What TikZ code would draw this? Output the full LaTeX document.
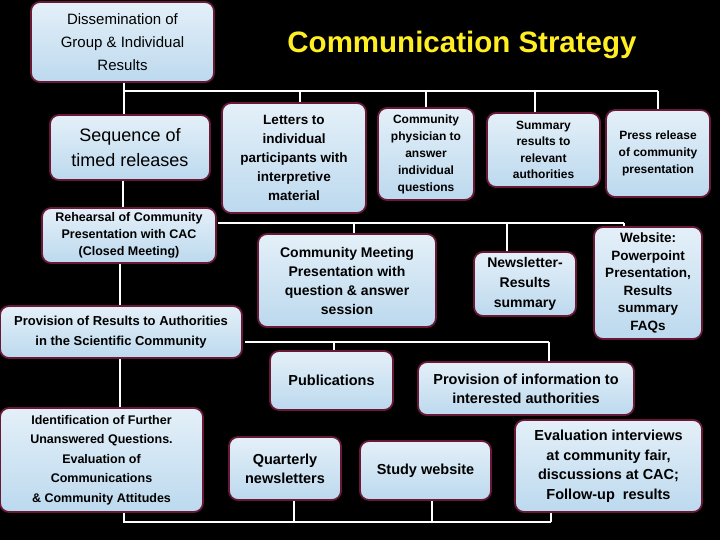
\documentclass[tikz,border=0pt]{standalone}
\usepackage{fontspec}
\setmainfont{Liberation Sans}
\begin{document}
\begin{tikzpicture}[x=1pt,y=-1pt,
  box/.style={draw=boxline,line width=1.8pt,rounded corners=9pt,top color=white!60!boxfill,bottom color=boxfill,
    align=center,inner sep=2pt,font=\bfseries\fontsize{13}{16.5}\selectfont},
  wire/.style={draw=white,line width=1.3pt}]
\definecolor{boxline}{HTML}{6A1838}
\definecolor{boxfill}{HTML}{BCD9EE}
\definecolor{titlec}{HTML}{FFEE22}
\fill[black] (0,0) rectangle (720,540);
\useasboundingbox (0,0) rectangle (720,540);
\newcommand\bx[7]{\node[box,minimum width=#3-#1,minimum height=#4-#2,#6] (#5) at ({(#1+#3)/2},{(#2+#4)/2}) {#7};}
\coordinate (b1) at (124,91);
\coordinate (b2) at (218,223);
\coordinate (b3) at (245,342);
\coordinate (b4) at (124,522);
% connectors
\draw[wire] (b1) -- (658,91);
\draw[wire] (124,82) -- (124,115);
\foreach \x/\y in {300/103,426/108,535/113,658/110} \draw[wire] (\x,91) -- (\x,\y);
\draw[wire] (123,180) -- (123,208);
\draw[wire] (b2) -- (624,223);
\foreach \x/\y in {354/234,507/252,624/227} \draw[wire] (\x,223) -- (\x,\y);
\draw[wire] (120,263) -- (120,306);
\draw[wire] (b3) -- (549,342);
\draw[wire] (334,342) -- (334,351);
\draw[wire] (549,342) -- (549,362);
\draw[wire] (120,358) -- (120,408);
\draw[wire] (124,512) -- (b4) -- (551,522);
\foreach \x/\y in {294/500,432/500,551/512} \draw[wire] (\x,\y) -- (\x,522);
\bx{31}{2}{214}{82}{dis}{font=\fontsize{15}{23}\selectfont}{Dissemination of\\ Group \& Individual\\ Results}
\bx{50}{115}{210}{180}{seq}{font=\fontsize{18}{25}\selectfont}{Sequence of\\ timed releases}
\bx{222}{103}{366}{213}{let}{font=\bfseries\fontsize{13.5}{19}\selectfont}{Letters to\\ individual\\ participants with\\ interpretive\\ material}
\bx{378}{108}{474}{200}{phy}{font=\bfseries\fontsize{12}{17}\selectfont}{Community\\ physician to\\ answer\\ individual\\ questions}
\bx{487}{113}{600}{187}{sum}{font=\bfseries\fontsize{12}{16.5}\selectfont}{Summary\\ results to\\ relevant\\ authorities}
\bx{606}{110}{710}{197}{pre}{font=\bfseries\fontsize{12}{17}\selectfont}{Press release\\ of community\\ presentation}
\bx{42}{208}{216}{263}{reh}{font=\bfseries\fontsize{12.5}{17}\selectfont}{Rehearsal of Community\\ Presentation with CAC\\ (Closed Meeting)}
\bx{258}{234}{436}{327}{cme}{font=\bfseries\fontsize{14}{19}\selectfont}{Community Meeting\\ Presentation with\\ question \& answer\\ session}
\bx{474}{252}{576}{316}{nwl}{font=\bfseries\fontsize{14}{20}\selectfont}{Newsletter-\\ Results\\ summary}
\bx{594}{227}{702}{339}{web}{font=\bfseries\fontsize{13.5}{17.5}\selectfont}{Website:\\ Powerpoint\\ Presentation,\\ Results\\ summary\\ FAQs}
\bx{0}{306}{242}{358}{pra}{font=\bfseries\fontsize{13}{19.5}\selectfont}{Provision of Results to Authorities\\ in the Scientific Community}
\bx{270}{351}{393}{410}{pub}{font=\bfseries\fontsize{14.5}{18}\selectfont}{Publications}
\bx{418}{362}{634}{415}{pin}{font=\bfseries\fontsize{14.5}{19}\selectfont}{Provision of information to\\ interested authorities}
\bx{0}{408}{203}{512}{idf}{font=\bfseries\fontsize{12.5}{19.5}\selectfont}{Identification of Further\\ Unanswered Questions.\\ Evaluation of\\ Communications\\ \& Community Attitudes}
\bx{229}{437}{341}{500}{qua}{font=\bfseries\fontsize{14.5}{19}\selectfont}{Quarterly\\ newsletters}
\bx{360}{441}{491}{500}{stw}{font=\bfseries\fontsize{14.5}{18}\selectfont}{Study website}
\bx{515}{420}{702}{512}{eva}{font=\bfseries\fontsize{14.5}{19.5}\selectfont}{Evaluation interviews\\ at community fair,\\ discussions at CAC;\\ Follow-up\ \ results}
\node[font=\bfseries\fontsize{29.5}{32}\selectfont,text=titlec] (title) at (462,45) {Communication Strategy};
\end{tikzpicture}
\end{document}
